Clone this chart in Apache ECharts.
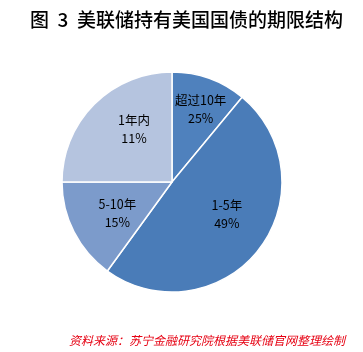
<!DOCTYPE html>
<html>
<head>
<meta charset="utf-8">
<script src="https://cdn.jsdelivr.net/npm/echarts@6/dist/echarts.min.js"></script>
<style>
  html, body { margin: 0; padding: 0; background: #fff; }
  #chart { width: 363px; height: 352px; }
</style>
</head>
<body>
<div id="chart"></div>
<script>
// 期限分类（顺时针，从12点钟开始）
const termNames = ['超过10年', '1-5年', '5-10年', '1年内'];
// 扇区大小（按图中扇区角度读取）
const sliceValues = [11, 49, 15, 25];
// 图中标注的百分比文字（原图如此）
const pctLabels = ['25%', '49%', '15%', '11%'];
const sliceColors = ['#4F81BD', '#4A7CB8', '#7C9BCB', '#B5C4DF'];
// 标签微调（Excel 默认位置比 echarts inside 更靠外）
const labelNudge = [[9, -18], [9, -3], [-3, 5], [3, -12]];

const chart = echarts.init(document.getElementById('chart'));

const pieData = termNames.map(function (n, i) {
  return {
    name: n,
    value: sliceValues[i],
    pct: pctLabels[i],
    itemStyle: { color: sliceColors[i] },
    label: { offset: labelNudge[i] }
  };
});

chart.setOption({
  animation: false,
  backgroundColor: '#fff',
  title: [{
    text: '图  3  美联储持有美国国债的期限结构',
    left: 25,
    top: 5,
    textStyle: {
      fontFamily: 'Noto Sans CJK SC',
      fontSize: 19,
      fontWeight: 500,
      color: '#000'
    }
  }, {
    text: '资料来源：苏宁金融研究院根据美联储官网整理绘制',
    right: 13,
    top: 329,
    textStyle: {
      fontFamily: 'Noto Sans CJK SC',
      fontSize: 12,
      fontStyle: 'italic',
      fontWeight: 'normal',
      color: '#E60012'
    }
  }],
  series: [{
    type: 'pie',
    center: [172, 182],
    radius: [0, 110],
    startAngle: 90,
    clockwise: true,
    data: pieData,
    itemStyle: { borderColor: '#fff', borderWidth: 1.5 },
    label: {
      position: 'inside',
      formatter: function (p) { return p.name + '\n' + p.data.pct; },
      color: '#000',
      fontFamily: 'Noto Sans CJK SC',
      fontSize: 12.5,
      lineHeight: 18
    },
    labelLine: { show: false },
    emphasis: { disabled: true }
  }]
});
</script>
</body>
</html>
